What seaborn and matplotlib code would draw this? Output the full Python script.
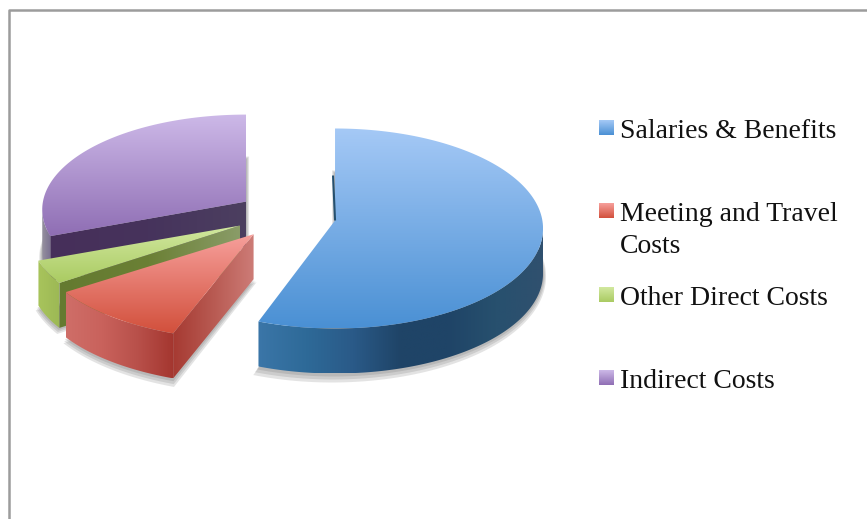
#!/usr/bin/env python3
"""Exploded 3D-look budget pie with a side legend."""
import matplotlib

matplotlib.use("Agg")
import matplotlib.pyplot as plt  # noqa: E402
import numpy as np  # noqa: E402
import seaborn as sns  # noqa: E402
from matplotlib.patches import Polygon  # noqa: E402

categories = ["Salaries & Benefits", "Meeting and Travel\nCosts",
              "Other Direct Costs", "Indirect Costs"]
shares = [56, 10.5, 4, 29.5]

top_colors = [("#A5C9F6", "#4A90D4"), ("#F7A09C", "#D2503C"),
              ("#D2E8A0", "#AACB62"), ("#CDB9E8", "#8F6EB4")]
wall_colors = [["#3B76A8", "#2E6A98", "#2A5A88", "#1F4467", "#1F4467", "#27506E", "#30506F"],
               ["#CF6E68", "#C9625C", "#B8504A", "#A4362F"],
               ["#A8C45C", "#9DB955"],
               ["#96929F", "#7A7090"]]
face_colors = [["#25506F", "#25506F"],
               ["#A63A32", "#B85A52", "#CD7C77"],
               ["#647A30", "#6B8035", "#8A9C68"],
               ["#472F5A", "#46335C", "#4C3F60"]]

# pie geometry in pixels; the scales stand in for the perspective of the original
CX, CY = 286, 216
RX, RY = 208, 100
LIFT = 8
DEPTH = 45
EXPLODE = 0.24
SCALE_X = [1.0, 1.05, 1.01, 0.98]
SCALE_Y = [1.0, 0.98, 0.97, 0.95]
W, H = 867, 519
LEGEND_FIRST_LINE = [138, 221, 305, 388]
LINE_PX = 32

sns.set_theme(style="white")
plt.rcParams["font.family"] = ["Liberation Serif", "DejaVu Serif"]

fig = plt.figure(figsize=(W / 100, H / 100), dpi=100)
ax = fig.add_axes([0, 0, 1, 1])
ax.axis("off")


def fill_gradient(xy, colors, vertical):
    """Fill a polygon with a gradient clipped to its outline."""
    patch = Polygon(xy, closed=True, facecolor="none", edgecolor="none")
    ax.add_patch(patch)
    cmap = sns.blend_palette(colors, as_cmap=True)
    ramp = np.linspace(0, 1, 256)
    ramp = ramp[:, None] if vertical else ramp[None, :]
    xs, ys = xy[:, 0], xy[:, 1]
    extent = (xs.min(), xs.max(), ys.max(), ys.min())
    im = ax.imshow(ramp, cmap=cmap, extent=extent, aspect="auto",
                   origin="upper", interpolation="bilinear", zorder=patch.get_zorder())
    im.set_clip_path(patch)


def rim(i, apex, theta, grow=0.0):
    t = np.radians(theta)
    return np.column_stack([apex[0] + (RX * SCALE_X[i] + grow) * np.sin(t),
                            apex[1] + LIFT - (RY * SCALE_Y[i] + grow) * np.cos(t)])


edges = np.concatenate([[0], np.cumsum(shares)]) / sum(shares) * 360
slices = []
for i in range(len(shares)):
    t1, t2 = edges[i], edges[i + 1]
    mid = np.radians((t1 + t2) / 2)
    apex = np.array([CX + EXPLODE * RX * np.sin(mid), CY - EXPLODE * RY * np.cos(mid)])
    slices.append((i, t1, t2, mid, apex))

# soft shadows under the slices
for i, t1, t2, mid, apex in slices:
    for grow in (1, 2, 3):
        shift = -grow * np.sign(np.sin(mid))
        arc = rim(i, apex, np.linspace(t1, t2, 120), grow=grow * 2)
        xy = np.vstack([apex, arc]) + [shift, DEPTH + grow]
        ax.add_patch(Polygon(xy, closed=True, facecolor="#555555", edgecolor="none", alpha=0.16))

# painter's order: back slice first, the big one last
for i, t1, t2, mid, apex in slices[::-1]:
    # cut face on the leading edge, only when it looks towards the viewer
    if t1 > 180:
        p = rim(i, apex, [t1])[0]
        xy = np.array([apex, p, p + [0, DEPTH], apex + [0, DEPTH]])
        fill_gradient(xy, face_colors[i], vertical=False)
    # outer wall, lower half of the ellipse
    a, b = max(t1, 90), min(t2, 270)
    if b > a:
        arc = rim(i, apex, np.linspace(a, b, 120))
        xy = np.vstack([arc, arc[::-1] + [0, DEPTH]])
        fill_gradient(xy, wall_colors[i], vertical=False)
    # the first slice starts edge-on, only a sliver of its cut face shows
    if t1 == 0:
        ax.plot([apex[0], apex[0] - 2], [apex[1], apex[1] - DEPTH],
                color=face_colors[i][0], lw=1.5, solid_capstyle="butt")
    arc = rim(i, apex, np.linspace(t1, t2, 200))
    fill_gradient(np.vstack([apex, arc]), top_colors[i], vertical=True)

# frame of the pasted chart, cut by the page on the right and bottom
ax.plot([9, 9, W], [H, 10, 10], color="#9C9C9C", lw=1.8, solid_capstyle="butt")

# legend
for i, (label, base) in enumerate(zip(categories, LEGEND_FIRST_LINE)):
    box = np.array([[599, base - 18], [614, base - 18], [614, base - 3], [599, base - 3]], float)
    fill_gradient(box, top_colors[i], vertical=True)
    for k, line in enumerate(label.split("\n")):
        ax.text(620, base + k * LINE_PX, line, fontsize=20, color="#111111",
                va="baseline", ha="left")

ax.set_xlim(0, W)
ax.set_ylim(H, 0)
fig.savefig("out.png", dpi=100)
plt.close(fig)
